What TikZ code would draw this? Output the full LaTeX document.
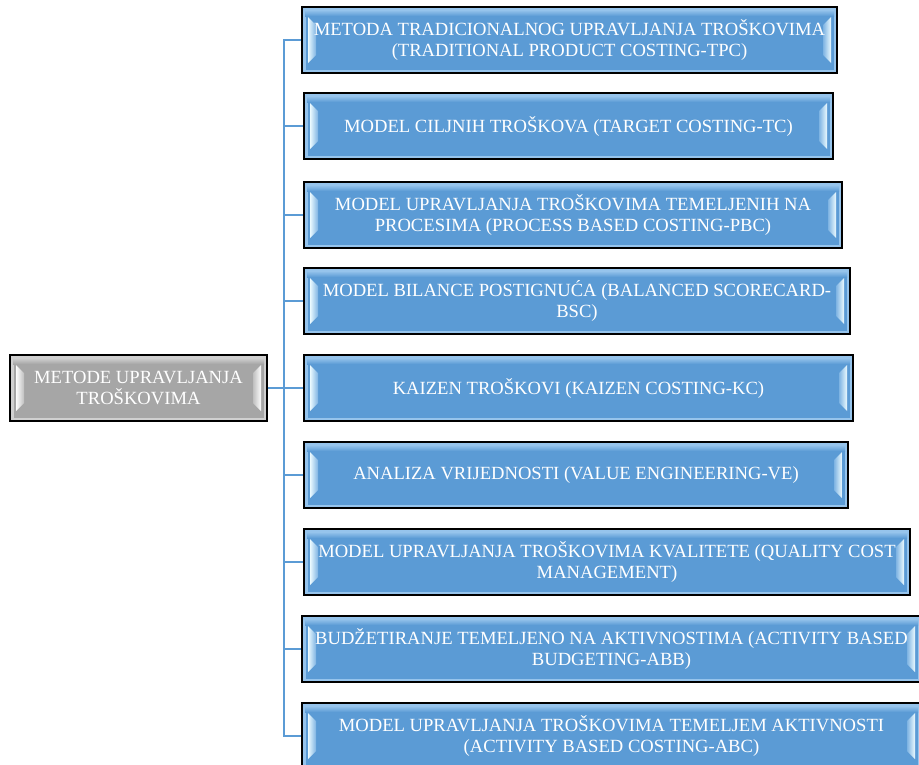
\documentclass[tikz,border=0pt]{standalone}
\usepackage{fontspec}
\setmainfont{Liberation Serif}
\definecolor{face}{RGB}{91,155,213}
\definecolor{faceedge}{RGB}{150,196,236}
\definecolor{shine}{RGB}{235,250,255}
\definecolor{greyface}{RGB}{166,166,166}
\definecolor{greyedge}{RGB}{208,208,208}
\definecolor{greyshine}{RGB}{252,252,252}
\definecolor{linkcol}{RGB}{91,155,213}

\begin{document}
\begin{tikzpicture}[x=1pt, y=-1pt,
	bevel/.style n args={3}{draw=black, line width=1.6pt, rectangle, fill=#1, text=white, inner sep=0pt, minimum height=66pt, align=center, font=\fontsize{18.6}{20.5}\selectfont,
		path picture={
			\coordinate (nw) at (path picture bounding box.north west);
			\coordinate (ne) at (path picture bounding box.north east);
			\coordinate (sw) at (path picture bounding box.south west);
			\coordinate (se) at (path picture bounding box.south east);
			% light frame and top band
			\draw[#2, line width=3pt] ([shift={(2,2)}]nw) rectangle ([shift={(-2,-2)}]se);
			\fill[top color=#2, bottom color=#1] ([shift={(3,3)}]nw) rectangle ([shift={(-3,9)}]ne);
			% side highlights
			\fill[left color=#3, right color=#1!40!#2] ([shift={(6,10)}]nw) -- ([shift={(14,18)}]nw) -- ([shift={(14,-18)}]sw) -- ([shift={(6,-10)}]sw) -- cycle;
			\fill[left color=#1!40!#2, right color=#3] ([shift={(-6,10)}]ne) -- ([shift={(-14,18)}]ne) -- ([shift={(-14,-18)}]se) -- ([shift={(-6,-10)}]se) -- cycle;
		}},
	mbox/.style={bevel={face}{faceedge}{shine}},
	gbox/.style={bevel={greyface}{greyedge}{greyshine}},
	link/.style={draw=linkcol, line width=2.5pt}]
	\useasboundingbox (0,0) rectangle (919,764);

	\node[gbox, minimum width=257pt] (M0) at (138.5,388) {METODE UPRAVLJANJA\\TROŠKOVIMA};

	\node[mbox, minimum width=535pt] (T1) at (569.5,40) {METODA TRADICIONALNOG UPRAVLJANJA TROŠKOVIMA\\(TRADITIONAL PRODUCT COSTING-TPC)};
	\node[mbox, minimum width=529pt] (T2) at (568.5,126) {MODEL CILJNIH TROŠKOVA (TARGET COSTING-TC)};
	\node[mbox, minimum width=538pt] (T3) at (573,215) {MODEL UPRAVLJANJA TROŠKOVIMA TEMELJENIH NA\\PROCESIMA (PROCESS BASED COSTING-PBC)};
	\node[mbox, minimum width=546pt] (T4) at (577,301) {MODEL BILANCE POSTIGNUĆA (BALANCED SCORECARD-\\BSC)};
	\node[mbox, minimum width=549pt] (T5) at (578.5,388) {KAIZEN TROŠKOVI (KAIZEN COSTING-KC)};
	\node[mbox, minimum width=544pt] (T6) at (576,475) {ANALIZA VRIJEDNOSTI (VALUE ENGINEERING-VE)};
	\node[mbox, minimum width=606pt] (T7) at (607,562) {MODEL UPRAVLJANJA TROŠKOVIMA KVALITETE (QUALITY COST\\MANAGEMENT)};
	\node[mbox, minimum width=619pt] (T8) at (611.5,649) {BUDŽETIRANJE TEMELJENO NA AKTIVNOSTIMA (ACTIVITY BASED\\BUDGETING-ABB)};
	\node[mbox, minimum width=619pt] (T9) at (611.5,736) {MODEL UPRAVLJANJA TROŠKOVIMA TEMELJEM AKTIVNOSTI\\(ACTIVITY BASED COSTING-ABC)};

	\coordinate (J) at (284,388);
	\draw[link] (M0.east) -- (J);
	\draw[link] (J) |- (T1.west);
	\draw[link] (J) |- (T2.west);
	\draw[link] (J) |- (T3.west);
	\draw[link] (J) |- (T4.west);
	\draw[link] (J) |- (T5.west);
	\draw[link] (J) |- (T6.west);
	\draw[link] (J) |- (T7.west);
	\draw[link] (J) |- (T8.west);
	\draw[link] (J) |- (T9.west);
\end{tikzpicture}
\end{document}
